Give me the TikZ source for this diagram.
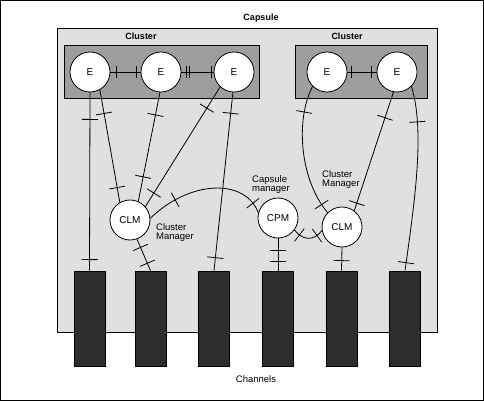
\documentclass[tikz,border=0pt]{standalone}
\usepackage{fontspec}
\setmainfont{Liberation Sans}
\usetikzlibrary{decorations.markings}
\tikzset{
  ent/.style={circle, draw, line width=0.8pt, fill=white, minimum size=40pt, inner sep=0pt, font=\fontsize{10}{12}\selectfont},
  chan/.style={draw, line width=0.8pt, fill=black!82, minimum width=31pt, minimum height=95pt, inner sep=0pt},
  grp/.style={draw, line width=0.8pt, fill=black!38, minimum width=#1, minimum height=53pt, inner sep=0pt},
  tk/.style={postaction={decorate, decoration={markings, mark=at position #1 with {\draw[line width=0.8pt] (0,-8pt)--(0,8pt);}}}},
  stk/.style={postaction={decorate, decoration={markings, mark=at position #1 with {\draw[line width=0.8pt] (0,-6pt)--(0,6pt);}}}},
  lnk/.style={line width=0.8pt},
  lbl/.style={font=\fontsize{9.5}{9}\selectfont, align=left, inner sep=0pt},
  ttl/.style={font=\bfseries\fontsize{9}{10}\selectfont, inner sep=0pt},
}
\begin{document}
\begin{tikzpicture}[x=1pt,y=-1pt]
\useasboundingbox (0,0) rectangle (484,401);
\draw[line width=1pt] (0.5,0.5) rectangle (483.5,400.5);
% capsule
\node[draw, line width=0.8pt, fill=black!12, minimum width=380pt, minimum height=304pt, inner sep=0pt] (capsule) at (247,180) {};
\node[ttl] (capt) at (261,18) {Capsule};
% clusters
\node[grp=195pt] (cl1) at (161.5,71.5) {};
\node[ttl] (cl1t) at (141,36) {Cluster};
\node[grp=132pt] (cl2) at (361,71.5) {};
\node[ttl] (cl2t) at (347,36) {Cluster};
% entities
\node[ent] (a1) at (90,72) {E};
\node[ent] (a2) at (161,72) {E};
\node[ent] (a3) at (234,72) {E};
\node[ent] (b1) at (327,72) {E};
\node[ent] (b2) at (397,72) {E};
% managers
\node[ent] (clma) at (130,220) {CLM};
\node[ent] (cpm) at (278,218) {CPM};
\node[ent] (clmb) at (342,227) {CLM};
% labels
\node[lbl, anchor=north west] (clmat) at (156,223) {Cluster\\Manager};
\node[lbl, anchor=north west] (cpmt) at (252,175) {Capsule\\manager};
\node[lbl, anchor=north west] (clmbt) at (322,170) {Cluster\\Manager};
% channels
\node[chan] (ch1) at (89.5,318.5) {};
\node[chan] (ch2) at (150.5,318.5) {};
\node[chan] (ch3) at (214,318.5) {};
\node[chan] (ch4) at (278,318.5) {};
\node[chan] (ch5) at (341.5,318.5) {};
\node[chan] (ch6) at (405,318.5) {};
\node[lbl] (chant) at (256,379) {Channels};
% connectors inside clusters
\draw[lnk, stk=6pt, stk=-4pt] (a1.east) -- (a2.west);
\draw[lnk, stk=5pt, stk=8pt, stk=-2pt] (a2.east) -- (a3.west);
\draw[lnk, stk=4pt, stk=-5pt] (b1.east) -- (b2.west);
% connectors
\draw[lnk, tk=27pt, tk=-11pt] (a1.south) -- (ch1.north);
\draw[lnk, tk=24pt, tk=-15pt] (a1.-61) -- (clma.120);
\draw[lnk, tk=23pt, tk=-25pt] (a2.-93) -- (clma.66);
\draw[lnk, tk=25pt, tk=-16pt] (a3.-133) -- (clma.41);
\draw[lnk, tk=21pt, tk=-13pt] (a3.-93) -- (ch3.north);
\draw[lnk, tk=9pt, tk=-8pt] (clma.-70) -- (ch2.north);
\draw[lnk, tk=31pt, tk=-11pt] (clma.5) .. controls (190,180) and (245,178) .. (cpm.165);
\draw[lnk, tk=12pt, tk=-9pt] (cpm.south) -- (ch4.north);
\draw[lnk, tk=7pt, tk=-7pt] (cpm.-36) .. controls (303,241) and (314,241) .. (clmb.190);
\draw[lnk, tk=-10pt] (clmb.south) -- (ch5.north);
\draw[lnk, tk=27pt, tk=-10pt] (b1.-135) .. controls (295,120) and (300,180) .. (clmb.135);
\draw[lnk, tk=27pt, tk=-8pt] (b2.-100) -- (clmb.53);
\draw[lnk, tk=36pt, tk=-8pt] (b2.-45) .. controls (425,130) and (415,200) .. (ch6.north);
\end{tikzpicture}
\end{document}
